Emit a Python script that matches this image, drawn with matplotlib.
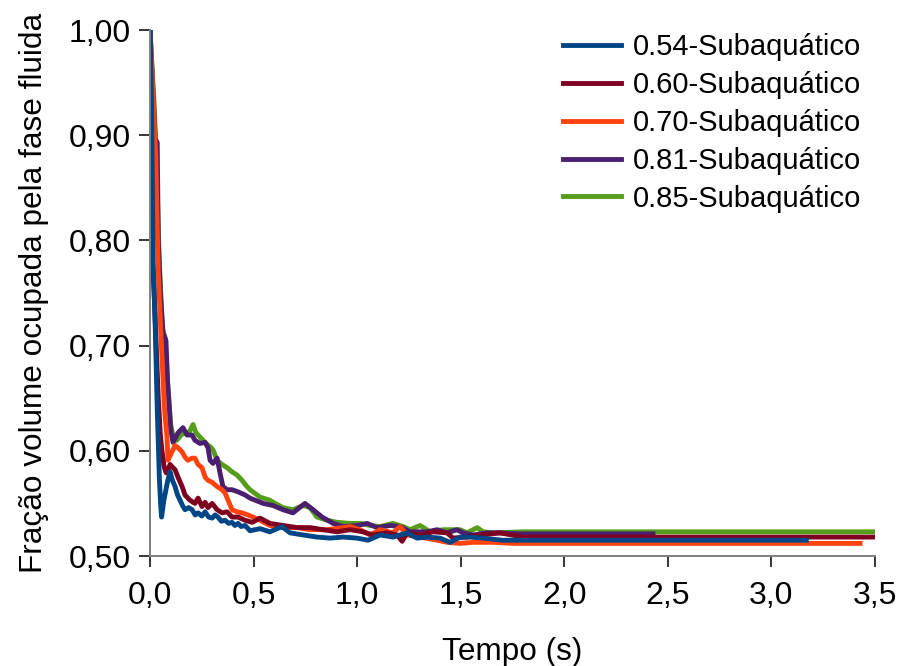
import matplotlib
matplotlib.use("Agg")
import matplotlib.pyplot as plt
from matplotlib.lines import Line2D

plt.rcParams['font.family'] = ['Liberation Sans', 'DejaVu Sans']

# Series: time (s) and volume fraction occupied by the fluid phase
labels = ["0.54-Subaquático", "0.60-Subaquático", "0.70-Subaquático",
          "0.81-Subaquático", "0.85-Subaquático"]
colors = ["#004586", "#7e0021", "#ff420e", "#4b1f6f", "#579d1c"]

t_054 = [0.0, 0.008, 0.015, 0.025, 0.035, 0.045, 0.051, 0.056, 0.066, 0.076, 0.086,
         0.097, 0.108, 0.121, 0.133, 0.145, 0.157, 0.169, 0.186, 0.203, 0.218, 0.232,
         0.25, 0.266, 0.283, 0.3, 0.314, 0.328, 0.345, 0.362, 0.38, 0.396, 0.41,
         0.425, 0.44, 0.459, 0.483, 0.531, 0.579, 0.637, 0.676, 0.739, 0.806, 0.869,
         0.932, 1.0, 1.053, 1.111, 1.173, 1.241, 1.289, 1.338, 1.4, 1.449, 1.497,
         1.545, 1.608, 1.7, 3.18]
y_054 = [1.0, 0.92, 0.78, 0.72, 0.64, 0.575, 0.55, 0.537, 0.552, 0.562, 0.572,
         0.580, 0.572, 0.566, 0.558, 0.553, 0.548, 0.544, 0.546, 0.544, 0.539, 0.541,
         0.538, 0.542, 0.537, 0.536, 0.539, 0.537, 0.533, 0.534, 0.531, 0.532, 0.529,
         0.531, 0.528, 0.529, 0.524, 0.526, 0.523, 0.528, 0.522, 0.520, 0.518, 0.517,
         0.518, 0.517, 0.515, 0.520, 0.518, 0.522, 0.517, 0.518, 0.517, 0.513, 0.518,
         0.518, 0.517, 0.515, 0.515]

t_060 = [0.0, 0.006, 0.012, 0.02, 0.03, 0.04, 0.05, 0.058, 0.068, 0.078, 0.087, 0.097,
         0.106, 0.121, 0.135, 0.155, 0.169, 0.193, 0.217, 0.232, 0.251, 0.266, 0.28,
         0.3, 0.324, 0.348, 0.372, 0.396, 0.425, 0.459, 0.493, 0.531, 0.579, 0.642,
         0.71, 0.773, 0.835, 0.903, 0.966, 1.028, 1.077, 1.144, 1.193, 1.217, 1.241,
         1.304, 1.367, 1.434, 1.463, 1.531, 1.593, 1.69, 1.8, 3.5]
y_060 = [1.0, 0.90, 0.78, 0.75, 0.70, 0.65, 0.615, 0.60, 0.585, 0.579, 0.582, 0.587,
         0.585, 0.582, 0.575, 0.566, 0.558, 0.553, 0.550, 0.555, 0.547, 0.551, 0.546,
         0.550, 0.544, 0.541, 0.542, 0.537, 0.537, 0.534, 0.532, 0.536, 0.531, 0.529,
         0.527, 0.527, 0.525, 0.523, 0.525, 0.523, 0.520, 0.522, 0.520, 0.514, 0.522,
         0.520, 0.523, 0.522, 0.517, 0.518, 0.520, 0.522, 0.518, 0.518]

t_070 = [0.0, 0.028, 0.034, 0.04, 0.055, 0.07, 0.082, 0.087, 0.096, 0.106, 0.121,
         0.135, 0.145, 0.155, 0.169, 0.183, 0.203, 0.217, 0.232, 0.251, 0.266, 0.28,
         0.3, 0.324, 0.348, 0.362, 0.377, 0.396, 0.42, 0.444, 0.473, 0.497, 0.531,
         0.579, 0.642, 0.71, 0.773, 0.855, 0.932, 0.966, 1.014, 1.062, 1.111, 1.173,
         1.207, 1.241, 1.304, 1.386, 1.434, 1.497, 1.56, 1.656, 1.75, 3.44]
y_070 = [1.0, 0.879, 0.82, 0.77, 0.70, 0.64, 0.613, 0.591, 0.595, 0.599, 0.605,
         0.603, 0.601, 0.599, 0.594, 0.591, 0.593, 0.593, 0.587, 0.584, 0.575, 0.572,
         0.570, 0.566, 0.563, 0.560, 0.553, 0.544, 0.542, 0.541, 0.539, 0.537, 0.534,
         0.529, 0.527, 0.527, 0.525, 0.525, 0.527, 0.528, 0.525, 0.520, 0.525, 0.522,
         0.528, 0.520, 0.518, 0.515, 0.513, 0.512, 0.513, 0.513, 0.512, 0.512]

t_081 = [0.0, 0.025, 0.035, 0.04, 0.05, 0.063, 0.077, 0.085, 0.1, 0.111, 0.135,
         0.159, 0.179, 0.203, 0.217, 0.241, 0.266, 0.28, 0.29, 0.304, 0.324, 0.338,
         0.352, 0.372, 0.396, 0.425, 0.459, 0.483, 0.546, 0.594, 0.642, 0.69, 0.748,
         0.787, 0.831, 0.884, 0.932, 1.0, 1.048, 1.096, 1.159, 1.207, 1.255, 1.338,
         1.386, 1.434, 1.482, 1.511, 1.56, 1.627, 1.676, 1.8, 2.44]
y_081 = [1.0, 0.897, 0.893, 0.80, 0.75, 0.712, 0.705, 0.665, 0.62, 0.608, 0.617,
         0.622, 0.615, 0.615, 0.610, 0.607, 0.608, 0.603, 0.591, 0.588, 0.593, 0.579,
         0.566, 0.563, 0.563, 0.561, 0.558, 0.555, 0.550, 0.548, 0.544, 0.541, 0.550,
         0.544, 0.537, 0.531, 0.528, 0.529, 0.531, 0.527, 0.529, 0.528, 0.523, 0.523,
         0.525, 0.522, 0.525, 0.522, 0.520, 0.522, 0.522, 0.521, 0.521]

t_085 = [0.0, 0.02, 0.03, 0.045, 0.06, 0.072, 0.085, 0.1, 0.115, 0.13, 0.15,
         0.169, 0.19, 0.208, 0.22, 0.232, 0.256, 0.27, 0.29, 0.304, 0.324, 0.348,
         0.372, 0.396, 0.42, 0.444, 0.468, 0.483, 0.531, 0.579, 0.604, 0.642, 0.69,
         0.739, 0.773, 0.806, 0.855, 0.903, 0.966, 1.014, 1.062, 1.111, 1.173, 1.222,
         1.255, 1.304, 1.352, 1.415, 1.497, 1.531, 1.579, 1.608, 1.656, 1.8, 3.5]
y_085 = [1.0, 0.93, 0.88, 0.78, 0.716, 0.708, 0.665, 0.625, 0.610, 0.610, 0.615,
         0.617, 0.618, 0.625, 0.618, 0.615, 0.610, 0.607, 0.604, 0.601, 0.591, 0.587,
         0.584, 0.580, 0.577, 0.572, 0.566, 0.563, 0.556, 0.553, 0.550, 0.546, 0.544,
         0.548, 0.546, 0.537, 0.534, 0.532, 0.531, 0.531, 0.529, 0.528, 0.531, 0.528,
         0.525, 0.529, 0.523, 0.525, 0.525, 0.522, 0.527, 0.523, 0.522, 0.523, 0.523]

series_t = [t_054, t_060, t_070, t_081, t_085]
series_y = [y_054, y_060, y_070, y_081, y_085]

x_ticks = [0.0, 0.5, 1.0, 1.5, 2.0, 2.5, 3.0, 3.5]
x_tick_labels = ["0,0", "0,5", "1,0", "1,5", "2,0", "2,5", "3,0", "3,5"]
y_ticks = [0.50, 0.60, 0.70, 0.80, 0.90, 1.00]
y_tick_labels = ["0,50", "0,60", "0,70", "0,80", "0,90", "1,00"]

fs_tick = 23
fs_title = 22.7
fs_legend = 21
fig = plt.figure(figsize=(8.99, 6.66), dpi=100)
ax = fig.add_axes([150 / 899, 1 - 556 / 666, 725 / 899, 526 / 666])

# draw the last series first so the 0.54 curve sits on top
for t, y, c in reversed(list(zip(series_t, series_y, colors))):
    ax.plot(t, y, color=c, lw=3.5, solid_joinstyle='round', solid_capstyle='butt')

ax.set_xlim(0, 3.5)
ax.set_ylim(0.5, 1.0)
ax.set_xticks(x_ticks)
ax.set_xticklabels(x_tick_labels)
ax.set_yticks(y_ticks)
ax.set_yticklabels(y_tick_labels)
ax.tick_params(direction='out', length=8, width=1.1, color='black',
               labelsize=fs_tick)
ax.tick_params(axis='x', pad=10)
ax.tick_params(axis='y', pad=6)

for side in ('top', 'right'):
    ax.spines[side].set_visible(False)
for side in ('left', 'bottom'):
    ax.spines[side].set_color('#808080')
    ax.spines[side].set_linewidth(1.4)

ax.set_xlabel("Tempo (s)", fontsize=fs_title, labelpad=19)
ax.set_ylabel("Fração volume ocupada pela fase fluida", fontsize=fs_title, labelpad=14)

handles = [Line2D([], [], color=c, lw=3.5) for c in colors]
fig.legend(handles, labels, loc='upper left', frameon=False, fontsize=fs_legend,
           bbox_to_anchor=(563 / 899, 1 - 33 / 666), borderaxespad=0, borderpad=0,
           handlelength=2.0, handletextpad=0.4, labelspacing=0.34)

fig.savefig("out.png", dpi=100)
